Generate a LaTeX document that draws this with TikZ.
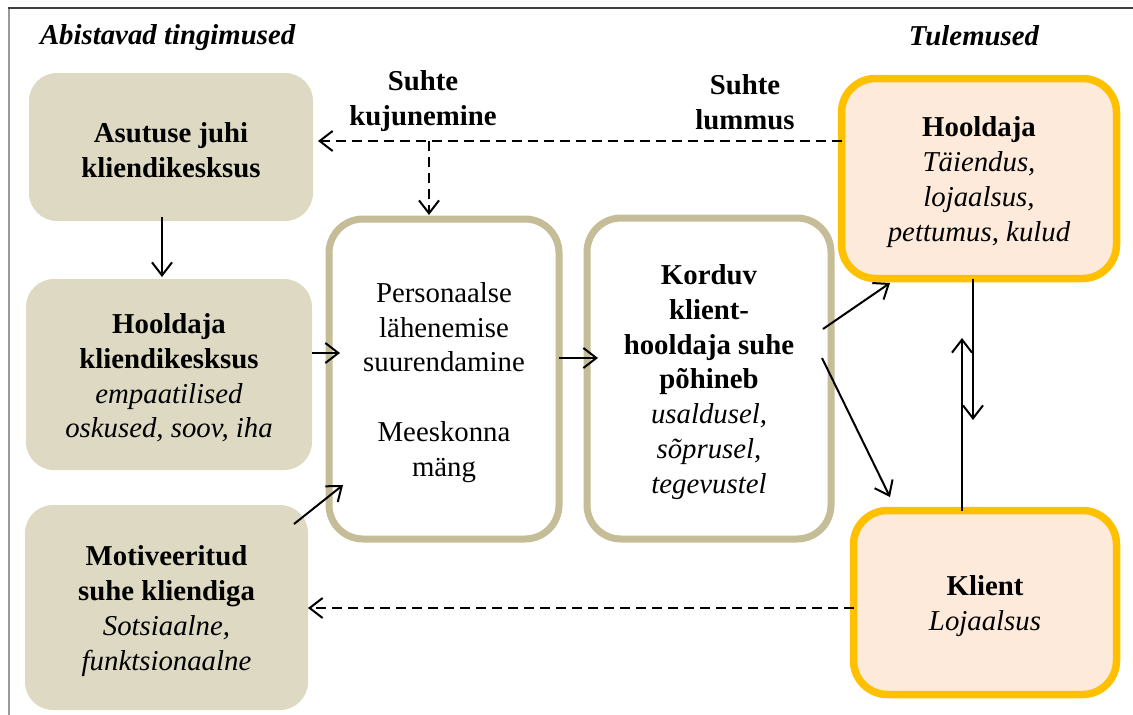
\documentclass[tikz,border=0pt]{standalone}
\usepackage{fontspec}
\setmainfont{Liberation Serif}
\usetikzlibrary{arrows.meta,calc}
\definecolor{tanfill}{HTML}{DDD9C3}
\definecolor{tanline}{HTML}{C4BD97}
\definecolor{peach}{HTML}{FDEADA}
\definecolor{gold}{HTML}{FFC000}
% a taller first line lowers each text block a little inside its box
\newcommand\boxtop{\rule{0pt}{27pt}}
\begin{document}
\begin{tikzpicture}[x=1pt,y=-1pt,
  every node/.style={inner sep=0pt,outer sep=0pt,align=center,
    font=\fontsize{28.8}{34.8}\selectfont},
  condbox/.style={fill=tanfill,rounded corners=28pt},
  procbox/.style={draw=tanline,line width=7pt,fill=white,rounded corners=34pt},
  resbox/.style={draw=gold,line width=7.5pt,fill=peach,rounded corners=34pt},
  arr/.style={line width=2pt,-{Straight Barb[length=13pt,width=20pt,line width=2pt]}},
  darr/.style={arr,dash pattern=on 10pt off 6pt}]
\useasboundingbox (0,0) rectangle (1133,715);
% frame
\draw[gray!80,line width=1.6pt] (9,715) -- (9,8);
\draw[black!75,line width=2.2pt] (8,8) -- (1133,8);

% column headings
\node[anchor=base west,font=\fontsize{28.8}{34.8}\selectfont\bfseries\itshape] (hdl) at (40,44) {Abistavad tingimused};
\node[anchor=base,font=\fontsize{28.8}{34.8}\selectfont\bfseries\itshape] (hdr) at (974,45) {Tulemused};

% enabling conditions
\node[condbox,minimum width=284pt,minimum height=148pt] (A) at (171,147)
  {\boxtop\bfseries Asutuse juhi\\\bfseries kliendikesksus};
\node[condbox,minimum width=286pt,minimum height=191pt] (B) at (169,374.5)
  {\boxtop\bfseries Hooldaja\\\bfseries kliendikesksus\\\itshape empaatilised\\\itshape oskused, soov, iha};
\node[condbox,minimum width=283pt,minimum height=205pt] (C) at (166.5,607.5)
  {\boxtop\bfseries Motiveeritud\\\bfseries suhe kliendiga\\\itshape Sotsiaalne,\\\itshape funktsionaalne};

% process
\node[procbox,minimum width=230pt,minimum height=320pt] (D) at (444,379)
  {\boxtop Personaalse\\lähenemise\\suurendamine\\[34.8pt]Meeskonna\\mäng};
\node[procbox,minimum width=244pt,minimum height=321pt] (E) at (709,378.5)
  {\boxtop\bfseries Korduv\\\bfseries klient-\\\bfseries hooldaja suhe\\\bfseries põhineb\\\itshape usaldusel,\\\itshape sõprusel,\\\itshape tegevustel};

% outcomes
\node[resbox,minimum width=275pt,minimum height=200pt] (F) at (979,178.5)
  {\boxtop\bfseries Hooldaja\\\itshape Täiendus,\\\itshape lojaalsus,\\\itshape pettumus, kulud};
\node[resbox,minimum width=263pt,minimum height=184pt] (G) at (985,602.5)
  {\boxtop\bfseries Klient\\\itshape Lojaalsus};

% relationship labels
\node[font=\fontsize{28.8}{34.8}\selectfont\bfseries] (lk) at (423,101) {Suhte\\kujunemine};
\node[font=\fontsize{28.8}{34.8}\selectfont\bfseries] (ll) at (745,102) {Suhte\\lummus};

% feedback (dashed)
\coordinate (j) at (429,141);
\draw[darr] (F.west |- j) -- ($(A.east |- j)+(5,0)$);
\draw[darr] (j) -- ($(D.north -| j)+(0,-4)$);
\draw[darr] ($(G.west)+(0,5.5)$) -- ($(C.east)+(0,0.5)$);

% main flow
\draw[arr] ($(A.south)+(-9,-4)$) -- ($(B.north)+(-7,-2)$);
\draw[arr] (B.east |- 0,353) -- ($(D.west |- 0,353)+(11,0)$);
\draw[arr] ($(C.north east)+(-14,19)$) -- ($(D.south west)+(14,-54)$);
\draw[arr] (D.east |- 0,358) -- ($(E.west |- 0,358)+(11,0)$);
\draw[arr] ($(E.east)+(-8,-49.5)$) -- ($(F.south)+(-89,4.5)$);
\draw[arr] ($(E.east)+(-9,-20.5)$) -- ($(G.north)+(-95,-13.5)$);
\draw[arr] ($(F.south)+(-6,0)$) -- ($(F.south)+(-6,141.5)$);
\draw[arr] ($(G.north)+(-23,0)$) -- ($(G.north)+(-23,-172.5)$);
\end{tikzpicture}
\end{document}
